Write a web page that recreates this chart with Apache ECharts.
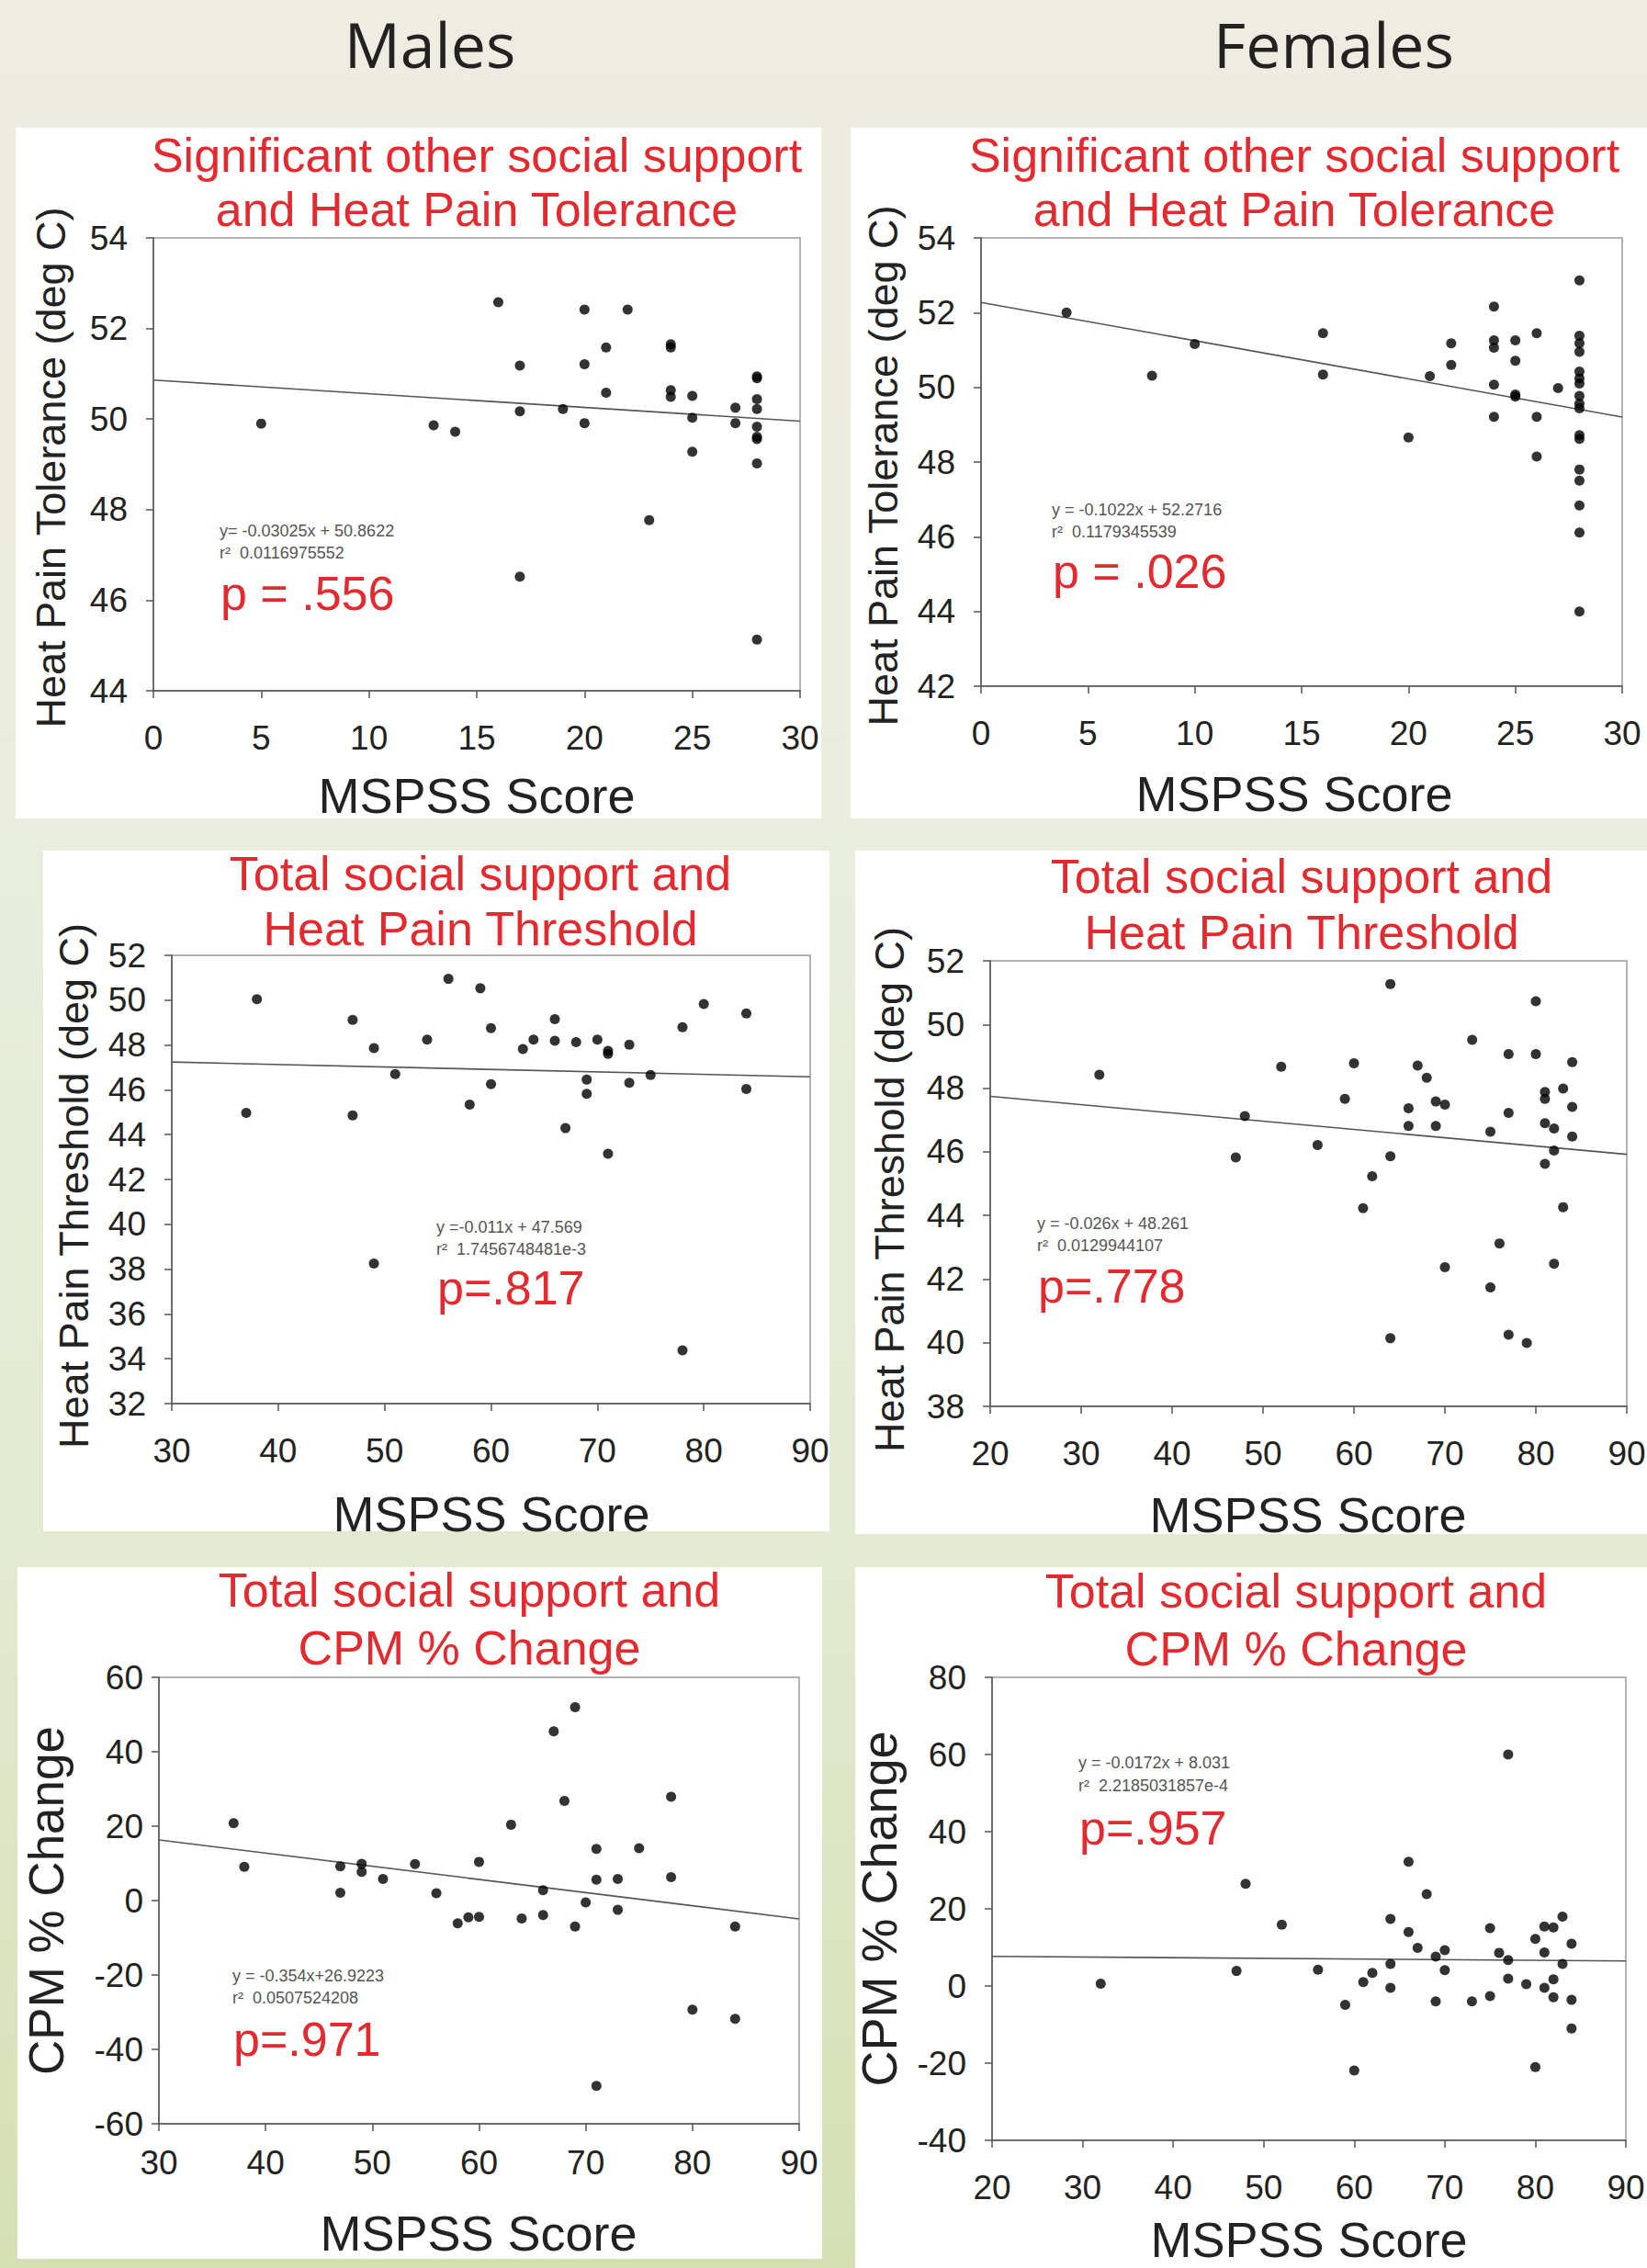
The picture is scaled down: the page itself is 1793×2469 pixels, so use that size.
<!DOCTYPE html>
<html>
<head>
<meta charset="utf-8">
<title>MSPSS scatter plots</title>
<script src="https://cdn.jsdelivr.net/npm/echarts@6/dist/echarts.min.js"></script>
<style>
  body { margin: 0; }
  #page {
    position: relative; width: 1793px; height: 2469px; overflow: hidden;
    background: linear-gradient(to bottom, #EFECE1 0%, #EEEBE0 6%, #E9EDDD 37%, #E3EAD0 68%, #D4E0B4 100%);
  }
  .panel { position: absolute; background: #fff; }
  #chart { position: absolute; left: 0; top: 0; width: 1793px; height: 2469px; }
</style>
</head>
<body>
<div id="page">
  <div class="panel" style="left:17px;top:139px;width:877px;height:752px"></div>
  <div class="panel" style="left:926px;top:139px;width:867px;height:752px"></div>
  <div class="panel" style="left:47px;top:926px;width:856px;height:741px"></div>
  <div class="panel" style="left:931px;top:926px;width:862px;height:744px"></div>
  <div class="panel" style="left:19px;top:1706px;width:876px;height:753px"></div>
  <div class="panel" style="left:931px;top:1706px;width:862px;height:763px"></div>
  <div id="chart"></div>
</div>
<script>
// MSPSS score vs outcome, one array per panel: [score, value]
const maleTolerance = [
  [5, 49.9], [13, 49.86], [14, 49.72], [16, 52.58], [17, 51.18], [17, 50.17], [17, 46.52],
  [19, 50.22], [20, 52.42], [20, 51.21], [20, 49.91], [21, 51.58], [21, 50.58], [22, 52.42],
  [23, 47.77], [24, 51.65], [24, 51.58], [24, 50.64], [24, 50.49], [25, 50.51], [25, 50.03],
  [25, 49.28], [27, 50.25], [27, 49.91], [28, 50.94], [28, 50.9], [28, 50.44], [28, 50.22],
  [28, 49.83], [28, 49.61], [28, 49.56], [28, 49.02], [28, 45.13]
];
const femaleTolerance = [
  [4, 52.0], [8, 50.31], [10, 51.16], [16, 51.45], [16, 50.34], [20, 48.66], [21, 50.3],
  [22, 51.18], [22, 50.6], [24, 52.16], [24, 51.26], [24, 51.06], [24, 50.07], [24, 49.21],
  [25, 51.26], [25, 50.71], [25, 49.81], [25, 49.75], [26, 51.45], [26, 49.21], [26, 48.15],
  [27, 49.98], [28, 52.86], [28, 51.38], [28, 51.18], [28, 50.95], [28, 50.42], [28, 50.24],
  [28, 50.1], [28, 49.77], [28, 49.56], [28, 49.44], [28, 48.72], [28, 48.62], [28, 47.8],
  [28, 47.5], [28, 46.84], [28, 46.11], [28, 44.0]
];
const maleThreshold = [
  [37, 44.97], [38, 50.04], [47, 49.12], [47, 44.86], [49, 47.86], [49, 38.25], [51, 46.7],
  [54, 48.24], [56, 50.95], [58, 45.34], [59, 50.53], [60, 48.75], [60, 46.25], [63, 47.82],
  [64, 48.24], [66, 49.15], [66, 48.19], [67, 44.29], [68, 48.13], [69, 46.46], [69, 45.82],
  [70, 48.24], [71, 47.74], [71, 47.6], [71, 43.15], [73, 48.01], [73, 46.31], [75, 46.66],
  [78, 48.79], [78, 34.38], [80, 49.83], [84, 49.41], [84, 46.04]
];
const femaleThreshold = [
  [32, 48.42], [47, 45.82], [48, 47.12], [52, 48.67], [56, 46.21], [59, 47.66], [60, 48.78],
  [61, 44.23], [62, 45.23], [64, 51.27], [64, 45.86], [64, 40.14], [66, 47.37], [66, 46.81],
  [67, 48.71], [68, 48.33], [69, 47.58], [69, 46.81], [70, 47.48], [70, 42.37], [73, 49.52],
  [75, 46.63], [75, 41.74], [76, 43.12], [77, 49.07], [77, 47.22], [77, 40.25], [79, 39.99],
  [80, 50.73], [80, 49.07], [81, 47.88], [81, 47.66], [81, 46.9], [81, 45.62], [82, 46.73],
  [82, 46.04], [82, 42.48], [83, 47.99], [83, 44.26], [84, 48.82], [84, 47.41], [84, 46.48]
];
const maleCPM = [
  [37, 20.8], [38, 9.1], [47, 9.2], [47, 2.1], [49, 9.9], [49, 7.7], [51, 5.8], [54, 9.8],
  [56, 2.0], [58, -6.1], [59, -4.5], [60, 10.4], [60, -4.4], [63, 20.4], [64, -4.8], [66, 2.8],
  [66, -3.9], [67, 45.5], [68, 26.8], [69, 52.0], [69, -7.0], [70, -0.5], [71, 13.9], [71, 5.6],
  [71, -49.8], [73, 5.8], [73, -2.5], [75, 14.1], [78, 27.9], [78, 6.3], [80, -29.3],
  [84, -7.0], [84, -31.8]
];
const femaleCPM = [
  [32, 0.6], [47, 3.9], [48, 26.5], [52, 15.9], [56, 4.2], [59, -4.9], [60, -21.9], [61, 1.0],
  [62, 3.4], [64, 17.4], [64, 5.7], [64, -0.5], [66, 32.2], [66, 14.0], [67, 9.9], [68, 23.8],
  [69, 7.6], [69, -4.0], [70, 9.3], [70, 4.1], [73, -4.0], [75, 15.0], [75, -2.6], [76, 8.6],
  [77, 60.0], [77, 6.7], [77, 1.9], [79, 0.5], [80, 12.2], [80, -21.0], [81, 15.4], [81, 8.7],
  [81, -0.5], [82, 15.2], [82, 1.7], [82, -2.9], [83, 18.0], [83, 5.7], [84, 10.95], [84, -3.6],
  [84, -11.0]
];

// panel order: TL, TR, ML, MR, BL, BR
const panelData = [maleTolerance, femaleTolerance, maleThreshold, femaleThreshold, maleCPM, femaleCPM];
// fitted lines as printed on the plots
const slopes = [-0.03025, -0.1022, -0.011, -0.026, -0.354, -0.0172];
const intercepts = [50.8622, 52.2716, 47.569, 48.261, 26.9223, 8.031];
const xRanges = [[0, 30, 5], [0, 30, 5], [30, 90, 10], [20, 90, 10], [30, 90, 10], [20, 90, 10]];
const yRanges = [[44, 54, 2], [42, 54, 2], [32, 52, 2], [38, 52, 2], [-60, 60, 20], [-40, 80, 20]];

const titles = [
  ['Significant other social support', 'and Heat Pain Tolerance'],
  ['Significant other social support', 'and Heat Pain Tolerance'],
  ['Total social support and', 'Heat Pain Threshold'],
  ['Total social support and', 'Heat Pain Threshold'],
  ['Total social support and', 'CPM % Change'],
  ['Total social support and', 'CPM % Change']
];
const yNames = ['Heat Pain Tolerance (deg C)', 'Heat Pain Tolerance (deg C)',
  'Heat Pain Threshold (deg C)', 'Heat Pain Threshold (deg C)', 'CPM % Change', 'CPM % Change'];
const xName = 'MSPSS Score';
const eqTexts = ['y= -0.03025x + 50.8622', 'y = -0.1022x + 52.2716', 'y =-0.011x + 47.569',
  'y = -0.026x + 48.261', 'y = -0.354x+26.9223', 'y = -0.0172x + 8.031'];
const r2Texts = ['r\u00B2  0.0116975552', 'r\u00B2  0.1179345539', 'r\u00B2  1.7456748481e-3',
  'r\u00B2  0.0129944107', 'r\u00B2  0.0507524208', 'r\u00B2  2.2185031857e-4'];
const pTexts = ['p = .556', 'p = .026', 'p=.817', 'p=.778', 'p=.971', 'p=.957'];

// layout (pixels)
const grids = [
  { left: 167, top: 259, width: 704, height: 493 },
  { left: 1068, top: 259, width: 698, height: 488 },
  { left: 187, top: 1040, width: 695, height: 488 },
  { left: 1078, top: 1046, width: 693, height: 485 },
  { left: 173, top: 1826, width: 697, height: 486 },
  { left: 1080, top: 1826, width: 690, height: 504 }
];
const titlePos = [[519, 169, 228], [1409, 169, 228], [523, 951, 1011], [1417, 954, 1015], [511, 1731, 1794], [1411, 1732, 1795]];
const yNamePos = [[55, 509, 45], [961, 507, 45], [80, 1291, 45], [968, 1295, 45], [50, 2069, 53], [957, 2078, 54]];
const xNamePos = [[519, 866], [1409, 864], [535, 1648], [1424, 1649], [521, 2431], [1425, 2438]];
const notePos = [[239, 578, 602, 646], [1145, 555, 579, 622], [475, 1336, 1360, 1402],
  [1129, 1332, 1356, 1400], [253, 2151, 2175, 2220], [1174, 1919, 1944, 1990]];
const labelMargins = [[33, 28], [33, 28], [33, 28], [33, 28], [24, 17], [33, 28]];

const FONT = '"Liberation Sans", Arial, sans-serif';
const RED = '#E52A2F';

const chart = echarts.init(document.getElementById('chart'), null, { renderer: 'svg' });

const gridOpts = [], xAxes = [], yAxes = [], series = [], graphics = [];

function txt(text, x, y, size, color, align, rot, family) {
  return {
    type: 'text', x: x, y: y, rotation: rot || 0, silent: true,
    style: {
      text: text, fill: color, fontSize: size, fontFamily: family || FONT,
      align: align, verticalAlign: 'middle', textAlign: align, textVerticalAlign: 'middle'
    }
  };
}

panelData.forEach(function (pts, i) {
  gridOpts.push(Object.assign({
    show: true, borderColor: '#9a9a9a', borderWidth: 1.5, backgroundColor: 'transparent',
    containLabel: false, outerBoundsMode: 'none'
  }, grids[i]));

  const axisBase = {
    type: 'value', gridIndex: i,
    axisLine: { show: true, onZero: false, lineStyle: { color: '#555', width: 1.5 } },
    axisTick: { show: true, inside: false, length: 8, lineStyle: { color: '#555', width: 1.5 } },
    splitLine: { show: false }
  };
  xAxes.push(Object.assign({}, axisBase, {
    min: xRanges[i][0], max: xRanges[i][1], interval: xRanges[i][2],
    axisLabel: { fontSize: 37, color: '#222', fontFamily: FONT, margin: labelMargins[i][0] }
  }));
  yAxes.push(Object.assign({}, axisBase, {
    min: yRanges[i][0], max: yRanges[i][1], interval: yRanges[i][2],
    axisLabel: { fontSize: 37, color: '#222', fontFamily: FONT, margin: labelMargins[i][1] }
  }));

  const x0 = xRanges[i][0], x1 = xRanges[i][1];
  series.push({
    type: 'line', xAxisIndex: i, yAxisIndex: i, silent: true, showSymbol: false, z: 2,
    lineStyle: { color: '#555', width: 1.6 },
    data: [[x0, intercepts[i] + slopes[i] * x0], [x1, intercepts[i] + slopes[i] * x1]]
  });
  series.push({
    type: 'scatter', xAxisIndex: i, yAxisIndex: i, symbolSize: 11, z: 3,
    itemStyle: { color: '#000' },
    data: pts
  });

  const tp = titlePos[i];
  graphics.push(txt(titles[i][0], tp[0], tp[1], 52, RED, 'center'));
  graphics.push(txt(titles[i][1], tp[0], tp[2], 52, RED, 'center'));
  const yp = yNamePos[i];
  graphics.push(txt(yNames[i], yp[0], yp[1], yp[2], '#222', 'center', Math.PI / 2));
  graphics.push(txt(xName, xNamePos[i][0], xNamePos[i][1], 54, '#222', 'center'));
  const np = notePos[i];
  graphics.push(txt(eqTexts[i], np[0], np[1], 18, '#555', 'left'));
  graphics.push(txt(r2Texts[i], np[0], np[2], 18, '#555', 'left'));
  graphics.push(txt(pTexts[i], np[0] + 1, np[3], 52, RED, 'left'));
});

graphics.push(txt('Males', 468, 47, 68, '#222', 'center', 0, '"Open Sans", sans-serif'));
graphics.push(txt('Females', 1452, 47, 68, '#222', 'center', 0, '"Open Sans", sans-serif'));

chart.setOption({
  animation: false,
  grid: gridOpts,
  xAxis: xAxes,
  yAxis: yAxes,
  series: series,
  graphic: { elements: graphics }
});
</script>
</body>
</html>
